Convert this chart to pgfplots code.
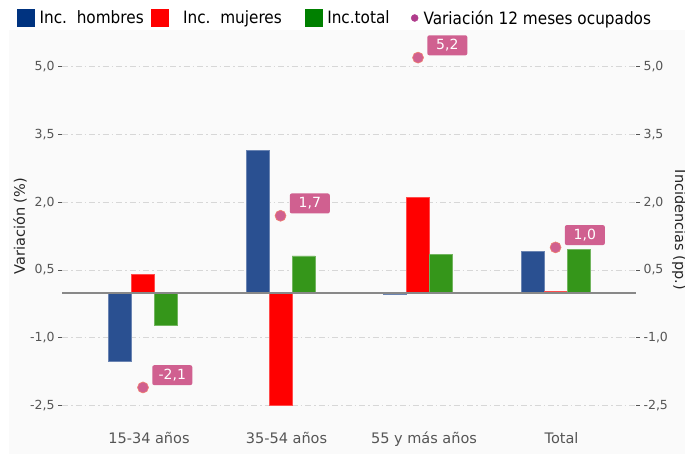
\documentclass[border=0pt]{standalone}
\usepackage{fontspec}
\setmainfont{DejaVu Sans}
\newfontfamily\condfont{DejaVu Sans Condensed}
\usepackage{pgfplots}
\pgfplotsset{compat=1.18}
\definecolor{cH}{RGB}{42,80,145}
\definecolor{cM}{RGB}{255,0,0}
\definecolor{cT}{RGB}{53,150,26}
\definecolor{lH}{RGB}{0,51,128}
\definecolor{lT}{RGB}{0,128,0}
\definecolor{lD}{RGB}{176,60,140}
\definecolor{dotc}{RGB}{208,96,143}
\definecolor{dotline}{RGB}{240,128,112}
\definecolor{boxc}{RGB}{208,96,144}
\definecolor{bgc}{RGB}{250,250,250}
\definecolor{gridc}{RGB}{215,215,215}
\definecolor{tickc}{RGB}{85,85,85}
\definecolor{zeroc}{RGB}{136,136,136}
\pgfplotsset{
  common/.style={
    at={(62pt,-420pt)}, anchor=south west,
    scale only axis, width=574pt, height=380pt,
    xmin=-0.589, xmax=3.585, ymin=-2.82, ymax=5.59,
    clip=false,
    axis line style={draw=none},
    ytick={-2.5,-1,0.5,2,3.5,5},
    tick align=outside, major tick length=4pt,
    ytick style={color=tickc, line width=0.8pt},
    yticklabel style={font=\fontsize{12.5}{12.5}\selectfont, text=tickc,
      /pgf/number format/fixed, /pgf/number format/fixed zerofill,
      /pgf/number format/precision=1, /pgf/number format/use comma,
      /pgf/number format/assume math mode=true},
  }
}
\begin{document}
\begin{tikzpicture}[x=1pt,y=1pt]
\fill[white] (0,0) rectangle (685,-454);
\fill[bgc] (9,-30) rectangle (685,-454);
\begin{axis}[common,
  ytick pos=left,
  ymajorgrids,
  grid style={dash pattern=on 6pt off 3pt on 1.5pt off 3pt, color=gridc, line width=0.7pt},
  xtick={0,1,2,3},
  xticklabels={15-34 años, 35-54 años, 55 y más años, Total},
  xtick style={draw=none},
  xticklabel style={font=\fontsize{14.5}{14.5}\selectfont, text=tickc, yshift=-4.5pt, xshift=6pt},
  ylabel={Variación (\%)},
  ylabel style={at={(axis description cs:-0.0732,0.51)}, anchor=center, font=\fontsize{14.5}{14.5}\selectfont, text=black!85},
  legend style={at={(axis description cs:0,1)}, anchor=west, xshift=-45pt, yshift=22pt,
    draw=none, fill=none, inner sep=0pt,
    font=\condfont\fontsize{17}{17}\selectfont,
    nodes={inner xsep=5pt, inner ysep=1pt},
    /tikz/every even column/.append style={column sep=2pt}},
  legend columns=-1,
]
\addplot[forget plot, ybar, bar width=23pt, bar shift=-23pt, fill=cH, draw=cH!70!white, line width=0.5pt]
  coordinates {(0,-1.53) (1,3.15) (2,-0.03) (3,0.92)};
\addplot[forget plot, ybar, bar width=23pt, bar shift=0pt, fill=cM, draw=cM!70!white, line width=0.5pt]
  coordinates {(0,0.41) (1,-2.49) (2,2.10) (3,0.03)};
\addplot[forget plot, ybar, bar width=23pt, bar shift=23pt, fill=cT, draw=cT!70!white, line width=0.5pt]
  coordinates {(0,-0.73) (1,0.81) (2,0.85) (3,0.96)};
\addplot[forget plot, draw=zeroc, line width=2pt] coordinates {(-0.589,0) (3.585,0)};
\addplot[forget plot, only marks, mark=*, mark size=5.5pt,
  mark options={fill=dotc, draw=dotline, line width=0.6pt},
  point meta=explicit symbolic, nodes near coords,
  nodes near coords style={anchor=south west, xshift=9pt, yshift=2pt,
    fill=boxc, text=white, rounded corners=2pt, inner xsep=5pt,
    minimum height=20pt, minimum width=40pt,
    font=\fontsize{14}{14}\selectfont}]
  coordinates {(0,-2.1) [-2,1] (1,1.7) [1,7] (2,5.2) [5,2] (3,1.0) [1,0]};
\addlegendimage{legend image code/.code={\fill[lH] (0pt,-8.5pt) rectangle (17pt,8.5pt);}}
\addlegendentry{Inc.\ \ hombres}
\addlegendimage{legend image code/.code={\fill[cM] (0pt,-8.5pt) rectangle (17pt,8.5pt);}}
\addlegendentry{\kern10pt Inc.\ \ mujeres\kern16pt}
\addlegendimage{legend image code/.code={\fill[lT] (0pt,-8.5pt) rectangle (17pt,8.5pt);}}
\addlegendentry{Inc.total\kern5pt}
\addlegendimage{legend image code/.code={\path[draw=none,fill=none] (0pt,-8.5pt) rectangle (17pt,8.5pt); \fill[lD] (13pt,0pt) circle (3.5pt);}}
\addlegendentry{Variación 12 meses ocupados}
\end{axis}
\begin{axis}[common,
  axis x line=none, axis y line*=right,
  ytick pos=right,
  ylabel={Incidencias (pp.)},
  ylabel style={at={(axis description cs:1.075,0.5)}, anchor=center, rotate=180, font=\fontsize{14.5}{14.5}\selectfont, text=black!85},
]
\end{axis}
\pgfresetboundingbox
\path[use as bounding box] (0,0) rectangle (685,-454);
\end{tikzpicture}
\end{document}
